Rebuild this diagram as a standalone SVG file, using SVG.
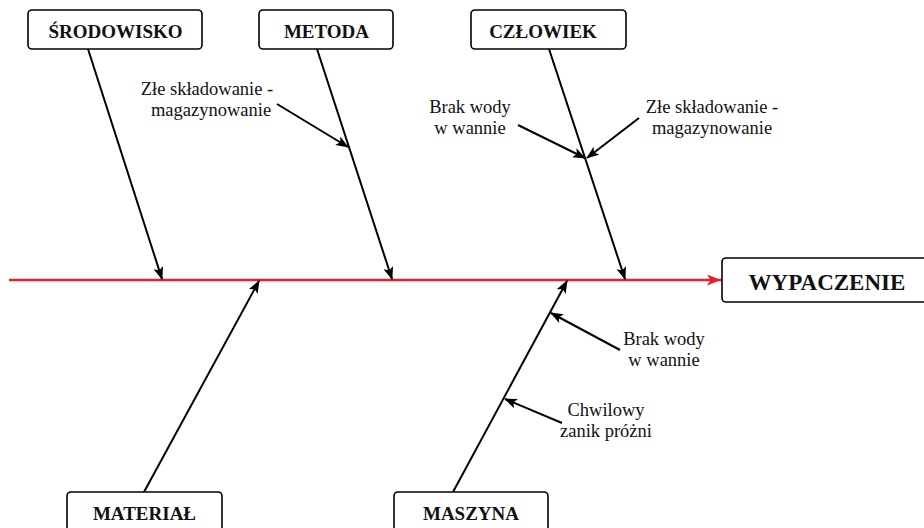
<svg xmlns="http://www.w3.org/2000/svg" width="924" height="528" viewBox="0 0 924 528">
<defs>
<style>
.box{fill:#fff;stroke:#000;stroke-width:1.6}
.lbl{font-family:"Liberation Serif","Times New Roman",serif;font-weight:bold;font-size:19px;text-anchor:middle;fill:#111}
.txt{font-family:"Liberation Serif","Times New Roman",serif;font-size:18.5px;text-anchor:middle;fill:#111}
.br{stroke:#000;stroke-width:2;fill:none;marker-end:url(#ah)}
</style>
<marker id="ah" markerUnits="userSpaceOnUse" markerWidth="13" markerHeight="10" refX="12" refY="5" orient="auto">
<path d="M0,0 L13,5 L0,10 L3,5 z" fill="#000"/>
</marker>
<marker id="ahr" markerUnits="userSpaceOnUse" markerWidth="14" markerHeight="11" refX="14" refY="5.5" orient="auto">
<path d="M0,0 L14,5.5 L0,11 L3.5,5.5 z" fill="#e8202a"/>
</marker>
</defs>
<rect width="924" height="528" fill="#fff"/>
<g id="connectors">
<line x1="9" y1="280" x2="721" y2="280" stroke="#e8202a" stroke-width="2.6" marker-end="url(#ahr)"/>
<line class="br" x1="88" y1="49" x2="162" y2="279"/>
<line class="br" x1="317" y1="49" x2="392" y2="279"/>
<line class="br" x1="549" y1="49" x2="625" y2="279"/>
<line class="br" x1="144" y1="492" x2="259" y2="281"/>
<line class="br" x1="453" y1="492" x2="567" y2="281"/>
<line class="br" x1="277" y1="104" x2="348" y2="147"/>
<line class="br" x1="518" y1="125" x2="585" y2="158"/>
<line class="br" x1="639" y1="118" x2="587" y2="158"/>
<line class="br" x1="620" y1="350" x2="551" y2="313"/>
<line class="br" x1="562" y1="423" x2="505" y2="399"/>
</g>
<g id="srodowisko"><rect class="box" x="28" y="10" width="174" height="39" rx="4"/><text class="lbl" x="115.5" y="38">ŚRODOWISKO</text></g>
<g id="metoda"><rect class="box" x="259" y="10" width="134" height="39" rx="4"/><text class="lbl" x="326.5" y="38">METODA</text></g>
<g id="czlowiek"><rect class="box" x="471" y="10" width="155" height="39" rx="4"/><text class="lbl" x="543" y="38">CZŁOWIEK</text></g>
<g id="wypaczenie"><rect class="box" x="722" y="258" width="210" height="44" rx="4"/><text class="lbl" style="font-size:23px" x="827" y="290">WYPACZENIE</text></g>
<g id="material"><rect class="box" x="67" y="492" width="155" height="44" rx="4"/><text class="lbl" x="144.5" y="520">MATERIAŁ</text></g>
<g id="maszyna"><rect class="box" x="394" y="492" width="154" height="44" rx="4"/><text class="lbl" x="471" y="520">MASZYNA</text></g>
<g id="label-metoda"><text class="txt" x="207" y="95">Złe składowanie -</text><text class="txt" x="211" y="116">magazynowanie</text></g>
<g id="label-czlowiek-1"><text class="txt" x="470" y="113">Brak wody</text><text class="txt" x="470" y="134">w wannie</text></g>
<g id="label-czlowiek-2"><text class="txt" x="712" y="113">Złe składowanie -</text><text class="txt" x="712" y="134">magazynowanie</text></g>
<g id="label-maszyna-1"><text class="txt" x="664" y="345">Brak wody</text><text class="txt" x="664" y="366">w wannie</text></g>
<g id="label-maszyna-2"><text class="txt" x="606" y="416">Chwilowy</text><text class="txt" x="606" y="437">zanik próżni</text></g>
</svg>
